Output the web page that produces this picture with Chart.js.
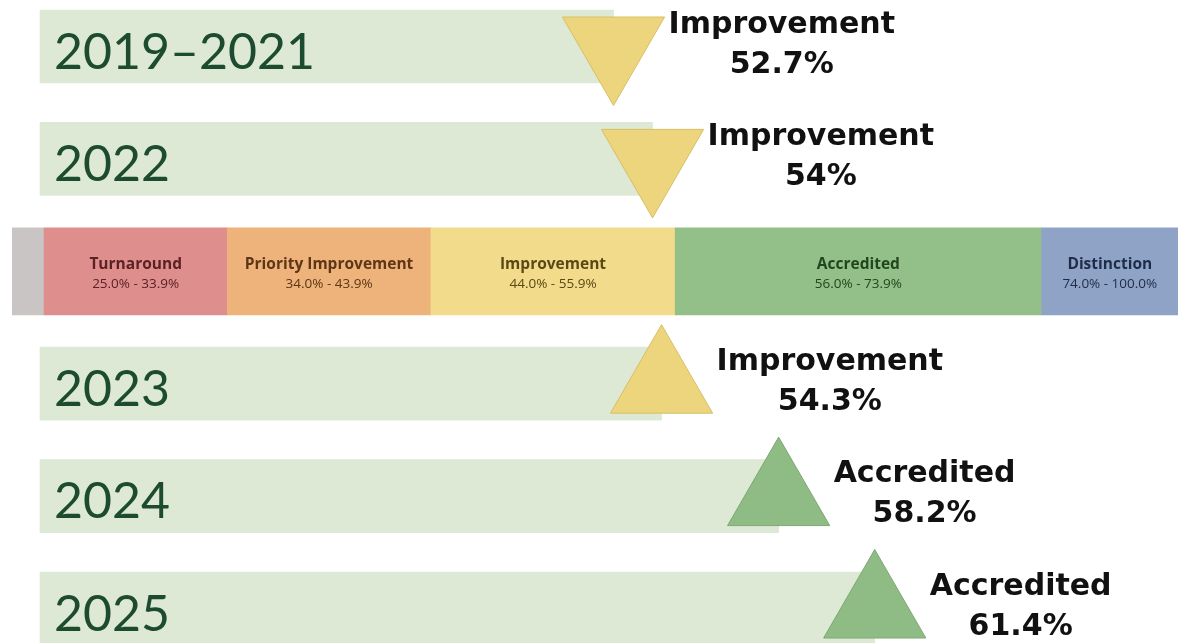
<!DOCTYPE html>
<html>
<head>
<meta charset="utf-8">
<script src="https://cdn.jsdelivr.net/npm/chart.js@4.4.1/dist/chart.umd.min.js"></script>
<style>
  html, body { margin: 0; padding: 0; background: #fff; }
  #wrap { width: 1178px; height: 643px; position: relative; }
</style>
</head>
<body>
<div id="wrap"><canvas id="chart"></canvas></div>
<script>
// rows from top to bottom, the rating scale sits in the middle row
const rowLabels = ["2019–2021", "2022", "bands", "2023", "2024", "2025"];

const yearLabels = ["2019–2021", "2022", "2023", "2024", "2025"];
const yearScores = [52.7, 54, 54.3, 58.2, 61.4];
const yearRatings = ["Improvement", "Improvement", "Improvement", "Accredited", "Accredited"];
const yearTrend = ["down", "down", "up", "up", "up"];

const bandNames = ["", "Turnaround", "Priority Improvement", "Improvement", "Accredited", "Distinction"];
const bandLow = [0, 25.0, 34.0, 44.0, 56.0, 74.0];
const bandHigh = [24.9, 33.9, 43.9, 55.9, 73.9, 100.0];

// styles
const ratingColors = { Improvement: "#edd57e", Accredited: "#8fbb84" };
const ratingBorders = { Improvement: "#d8bf63", Accredited: "#7ea873" };
const bandColors = ["#c9c5c5", "#df8e8e", "#eeb27b", "#f2dc8b", "#93bf88", "#8fa3c7"];
const bandText = ["#444", "#5a2222", "#5c3616", "#5a4816", "#21461f", "#1e2c48"];

const ctx = document.getElementById("chart");

const labelPlugin = {
  id: "labels",
  afterDatasetsDraw(chart) {
    const c = chart.ctx;
    const rows = chart.getDatasetMeta(0).data;
    const bands = chart.getDatasetMeta(1).data;
    const marks = chart.getDatasetMeta(2).data;
    c.save();

    // year captions inside the bars
    c.font = "400 50px Lato";
    c.fillStyle = "#1d4b2f";
    c.textAlign = "left";
    c.textBaseline = "alphabetic";
    rows.forEach((el, i) => {
      c.fillText(yearLabels[i], chart.chartArea.left + 14, el.y + 22);
    });

    // rating + score next to each triangle
    marks.forEach((el, i) => {
      c.font = "bold 30px 'DejaVu Sans'";
      const w = c.measureText(yearRatings[i]).width;
      const cx = el.x + 55 + w / 2;
      c.fillStyle = "#111";
      c.textAlign = "center";
      c.fillText(yearRatings[i], cx, el.y - 14);
      c.fillText(yearScores[i] + "%", cx, el.y + 26);
    });

    // band names and ranges
    bands.forEach((el, i) => {
      if (!bandNames[i]) return;
      const x0 = Math.max(Math.min(el.base, el.x), chart.chartArea.left);
      const x1 = Math.min(Math.max(el.base, el.x), chart.width);
      const cx = (x0 + x1) / 2;
      c.fillStyle = bandText[i];
      c.textAlign = "center";
      c.font = "bold 15.5px 'Open Sans'";
      c.fillText(bandNames[i], cx, el.y - 2);
      c.font = "13.5px 'Open Sans'";
      c.fillText(bandLow[i].toFixed(1) + "% - " + bandHigh[i].toFixed(1) + "%", cx, el.y + 17);
    });

    c.restore();
  }
};

new Chart(ctx, {
  type: "bar",
  data: {
    datasets: [
      {
        label: "Score",
        data: yearLabels.map((y, i) => ({ y: y, x: yearScores[i] })),
        xAxisID: "x",
        base: 33.6,
        grouped: false,
        barThickness: 73,
        backgroundColor: "#dde9d5",
        clip: false,
        order: 3
      },
      {
        label: "Rating bands",
        data: bandNames.map((n, i) => ({
          y: "bands",
          x: [bandLow[i], i < bandLow.length - 1 ? bandLow[i + 1] : bandHigh[i]]
        })),
        xAxisID: "xb",
        grouped: false,
        barThickness: 87,
        backgroundColor: bandColors,
        clip: { left: 28, top: false, right: false, bottom: false },
        order: 3
      },
      {
        type: "scatter",
        label: "Rating",
        data: yearLabels.map((y, i) => ({ y: y, x: yearScores[i] })),
        xAxisID: "x",
        pointStyle: "triangle",
        pointRadius: 59,
        pointHoverRadius: 59,
        pointRotation: yearTrend.map(t => (t === "down" ? 180 : 0)),
        backgroundColor: yearRatings.map(r => ratingColors[r]),
        borderColor: yearRatings.map(r => ratingBorders[r]),
        borderWidth: 1,
        clip: false,
        order: 1
      }
    ]
  },
  options: {
    indexAxis: "y",
    responsive: true,
    maintainAspectRatio: false,
    animation: false,
    layout: {
      autoPadding: false,
      padding: { left: 40, right: 0, top: 46.5, bottom: 34.5 }
    },
    plugins: {
      legend: { display: false },
      tooltip: { enabled: false }
    },
    scales: {
      y: {
        type: "category",
        labels: rowLabels,
        offset: false,
        display: false
      },
      x: {
        type: "linear",
        min: 33.6,
        max: 71.5,
        display: false
      },
      xb: {
        type: "linear",
        axis: "x",
        min: 24.8,
        max: 80.7,
        display: false
      }
    }
  },
  plugins: [labelPlugin]
});
</script>
</body>
</html>
